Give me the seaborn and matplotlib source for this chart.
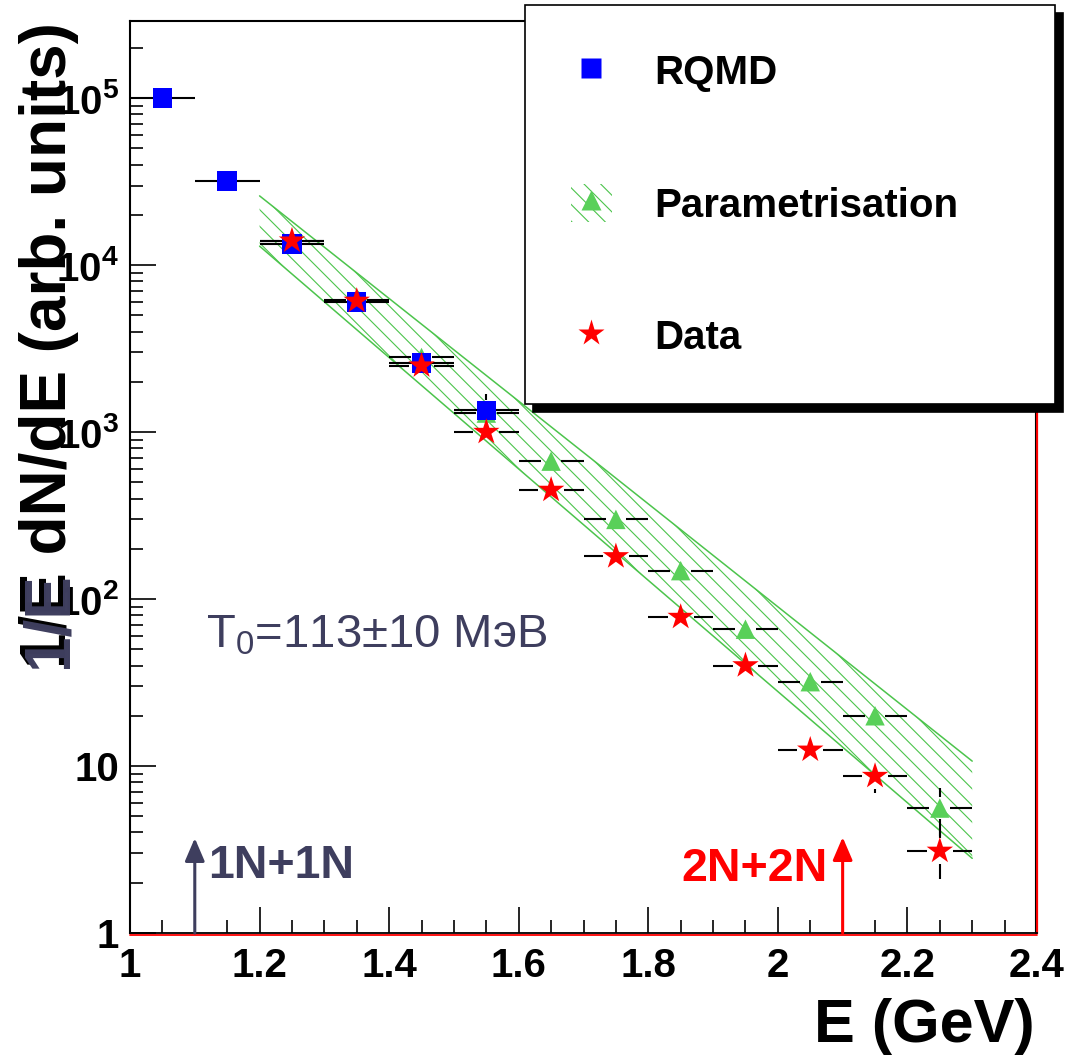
import numpy as np
import pandas as pd
import matplotlib
matplotlib.use("Agg")
import matplotlib.pyplot as plt
import matplotlib.transforms as mtransforms
from matplotlib.ticker import MultipleLocator, LogLocator, FuncFormatter, NullFormatter
from matplotlib.lines import Line2D
from matplotlib.patches import Patch
from matplotlib.legend_handler import HandlerTuple
import seaborn as sns

# ---- data -------------------------------------------------------------
energy_rqmd = [1.05, 1.15, 1.25, 1.35, 1.45, 1.55]
yield_rqmd = [1.0e5, 3.2e4, 1.34e4, 6.0e3, 2.6e3, 1.35e3]
err_rqmd = [5e3, 2e3, 1e3, 4e2, 3e2, 3.5e2]

energy_bins = [1.25, 1.35, 1.45, 1.55, 1.65, 1.75, 1.85, 1.95, 2.05, 2.15, 2.25]
yield_data = [1.4e4, 6.1e3, 2.5e3, 1.0e3, 450, 180, 78, 40, 12.5, 8.7, 3.1]
err_data = [1e3, 4e2, 4e2, 1e2, 40, 15, 6, 3, 2.0, 1.8, 1.0]

yield_param = [1.4e4, 6.2e3, 2.8e3, 1.3e3, 670, 300, 148, 66, 32, 20, 5.6]
err_param = [1e3, 5e2, 3e2, 1e2, 50, 25, 10, 5, 3, 1.6, 1.8]

bin_half_width = 0.05

band_energy = [1.2, 1.75, 2.3]
band_low = [1.3e4, 190, 2.8]
band_high = [2.6e4, 530, 10.7]

thresholds = [1.1, 2.1]
threshold_labels = ["1N+1N", "2N+2N"]
arrow_top = [3.7, 3.75]

series_names = ["RQMD", "Parametrisation", "Data"]

# ---- style ------------------------------------------------------------
sns.set_theme(style="ticks")
plt.rcParams["font.family"] = ["Liberation Sans", "DejaVu Sans"]
plt.rcParams["font.weight"] = "bold"
plt.rcParams["text.color"] = "black"
plt.rcParams["axes.labelcolor"] = "black"
plt.rcParams["xtick.color"] = "black"
plt.rcParams["ytick.color"] = "black"
plt.rcParams["mathtext.fontset"] = "custom"
plt.rcParams["mathtext.rm"] = "Liberation Sans:weight=normal"
plt.rcParams["mathtext.bf"] = "Liberation Sans:weight=bold"
plt.rcParams["hatch.linewidth"] = 0.8

BLUE = "#0000ff"
GREEN = "#59d059"
HATCH = "#4cc44c"
RED = "#ff0000"
SLATE = "#3e3e5e"

W, H = 1070, 1058
fig = plt.figure(figsize=(W / 100, H / 100), dpi=100)
ax = fig.add_axes([130 / W, 1 - 933 / H, 907 / W, 912 / H])
ax.set_facecolor("white")

ax.set_yscale("log")
ax.set_xlim(1.0, 2.4)
ax.set_ylim(1.0, 2.9e5)

# ---- parametrisation band --------------------------------------------
ax.fill_between(band_energy, band_low, band_high, facecolor="none",
                edgecolor=HATCH, hatch="\\\\", linewidth=0, zorder=2)
ax.plot(band_energy, band_high, color=HATCH, lw=1.1, zorder=2)
ax.plot(band_energy, band_low, color=HATCH, lw=1.1, zorder=2)


# ---- error bars with a gap around the marker ---------------------------
def draw_bars(xs, ys, errs, gap_x, gap_f, z):
    for x, y, e in zip(xs, ys, errs):
        ax.hlines([y, y], [x - bin_half_width, x + gap_x],
                  [x - gap_x, x + bin_half_width], colors="black", lw=1.5, zorder=z)
        if y + e > y * gap_f:
            ax.vlines(x, y * gap_f, y + e, colors="black", lw=1.5, zorder=z)
        if y - e < y / gap_f:
            ax.vlines(x, y - e, y / gap_f, colors="black", lw=1.5, zorder=z)


draw_bars(energy_rqmd, yield_rqmd, err_rqmd, 0.015, 1.16, 3)
draw_bars(energy_bins, yield_param, err_param, 0.016, 1.17, 3)
draw_bars(energy_bins, yield_data, err_data, 0.02, 1.2, 3)

# ---- markers ----------------------------------------------------------
sns.scatterplot(x=energy_bins, y=yield_param, marker="^", s=14 ** 2, color=GREEN,
                edgecolor="none", linewidth=0, ax=ax, zorder=4, legend=False)
sns.scatterplot(x=energy_rqmd, y=yield_rqmd, marker="s", s=14 ** 2, color=BLUE,
                edgecolor="none", linewidth=0, ax=ax, zorder=5, legend=False)
sns.scatterplot(x=energy_bins, y=yield_data, marker="*", s=20 ** 2, color=RED,
                edgecolor="none", linewidth=0, ax=ax, zorder=6, legend=False)

# ---- axes -------------------------------------------------------------
ax.set_xlabel("")
ax.set_ylabel("")
ax.xaxis.set_major_locator(MultipleLocator(0.2))
ax.xaxis.set_minor_locator(MultipleLocator(0.05))
ax.xaxis.set_major_formatter(FuncFormatter(lambda v, p: f"{v:g}"))
ax.yaxis.set_major_locator(LogLocator(base=10, numticks=10))
ax.yaxis.set_minor_locator(LogLocator(base=10, subs=np.arange(2, 10), numticks=20))
ax.yaxis.set_minor_formatter(NullFormatter())


def ylabel_fmt(v, p):
    e = int(round(np.log10(v)))
    if e == 0:
        return "1"
    if e == 1:
        return "10"
    return r"$\mathbf{10^{%d}}$" % e


ax.yaxis.set_major_formatter(FuncFormatter(ylabel_fmt))
ax.tick_params(axis="both", which="major", direction="in", length=19, width=1.2,
               labelsize=29, colors="black", top=False, right=False)
ax.tick_params(axis="both", which="minor", direction="in", length=9.5, width=1.2,
               colors="black", top=False, right=False)
ax.tick_params(axis="x", which="major", pad=10)
ax.tick_params(axis="y", which="major", pad=8)
for lab in ax.get_xticklabels() + ax.get_yticklabels():
    lab.set_fontweight("bold")

for side in ["left", "top"]:
    ax.spines[side].set_color("black")
    ax.spines[side].set_linewidth(1.5)
ax.spines["bottom"].set_color("black")
ax.spines["bottom"].set_linewidth(1.3)
ax.spines["right"].set_color(RED)
ax.spines["right"].set_linewidth(1.6)
shift_down = mtransforms.ScaledTranslation(0, -1.6 / 72, fig.dpi_scale_trans)
ax.add_line(Line2D([0, 1], [0, 0], transform=ax.transAxes + shift_down,
                   color=RED, lw=1.3, clip_on=False, zorder=5))
shift_left = mtransforms.ScaledTranslation(-1.3 / 72, 0, fig.dpi_scale_trans)
ax.add_line(Line2D([1, 1], [0, 1], transform=ax.transAxes + shift_left,
                   color="black", lw=0.8, clip_on=False, zorder=5))

# ---- threshold arrows -------------------------------------------------
arrow_colors = [SLATE, RED]
for x, top, c in zip(thresholds, arrow_top, arrow_colors):
    ax.annotate("", xy=(x, top), xytext=(x, 1.0),
                arrowprops=dict(arrowstyle="-|>,head_length=0.7,head_width=0.3",
                                color=c, lw=2.2, mutation_scale=20,
                                shrinkA=0, shrinkB=0), zorder=6)
ax.text(1.1206, 2.14, threshold_labels[0], color=SLATE, fontsize=33.5,
        fontweight="bold", ha="left", va="baseline", zorder=6)
ax.text(2.077, 2.05, threshold_labels[1], color=RED, fontsize=33.5,
        fontweight="bold", ha="right", va="baseline", zorder=6)

ax.text(1.117, 51.6, r"T$_\mathrm{0}$=113±10 МэВ", color=SLATE, fontsize=34,
        fontweight="normal", ha="left", va="baseline", zorder=6)

# ---- axis titles ------------------------------------------------------
fig.text(1035 / W, 1 - 1042 / H, "E (GeV)", fontsize=44, fontweight="bold",
         ha="right", va="baseline", color="black")
ylab_kw = dict(fontsize=46, fontweight="bold", rotation=90, rotation_mode="anchor",
               ha="left", va="baseline")
fig.text(66 / W, 1 - 668 / H, "1/E dN/dE (arb. units)", color="black", **ylab_kw)
fig.text(66 / W, 1 - 668 / H, "1/E", color=SLATE, zorder=5, **ylab_kw)

# ---- legend -----------------------------------------------------------
h_rqmd = Line2D([], [], ls="none", marker="s", ms=14, color=BLUE, mec="none")
h_band = Patch(facecolor="none", edgecolor=HATCH, hatch="\\\\", linewidth=0)
h_tri = Line2D([], [], ls="none", marker="^", ms=14, color=GREEN, mec="none")
h_data = Line2D([], [], ls="none", marker="*", ms=20, color=RED, mec="none")
leg = fig.legend([h_rqmd, (h_band, h_tri), h_data], series_names,
                 handler_map={tuple: HandlerTuple(ndivide=1)},
                 loc="upper left", bbox_to_anchor=(525 / W, 1 - 405 / H, 530 / W, 400 / H),
                 bbox_transform=fig.transFigure, mode="expand", borderaxespad=0,
                 prop=dict(family="Liberation Sans", weight="bold", size=29),
                 frameon=True, fancybox=False, borderpad=1.15, labelspacing=2.27,
                 handlelength=1.0, handleheight=1.1, handletextpad=1.05,
                 shadow=dict(ox=6, oy=-6, facecolor="black", edgecolor="black", alpha=1))
leg.get_frame().set_edgecolor("black")
leg.get_frame().set_linewidth(1.2)
leg.get_frame().set_facecolor("white")
leg.get_frame().set_alpha(1)
leg.set_zorder(10)
for t in leg.get_texts():
    t.set_color("black")

fig.savefig("out.png", dpi=100, facecolor="white")
